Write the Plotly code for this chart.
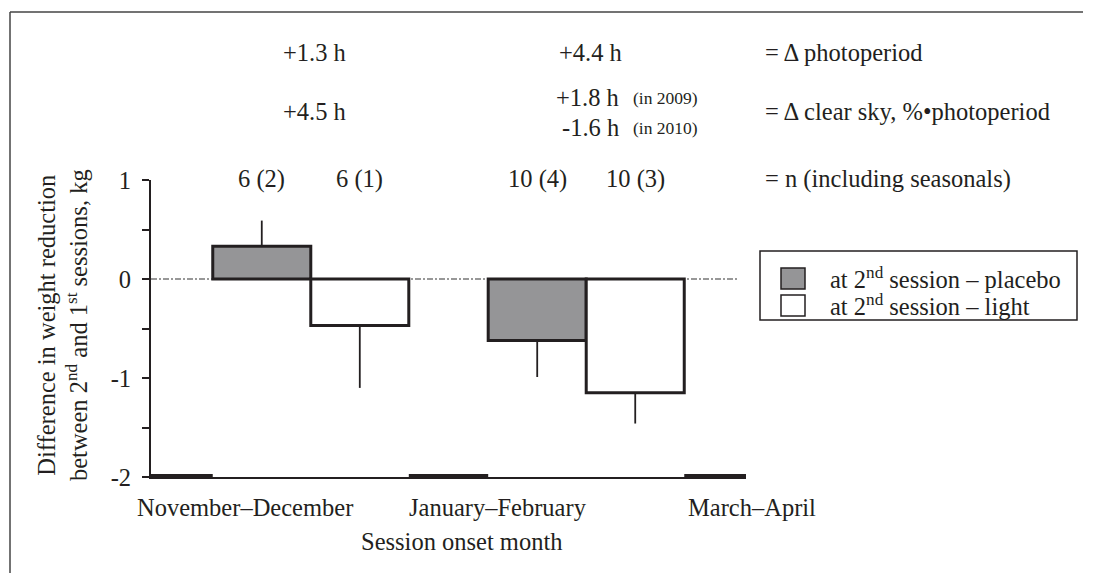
import plotly.graph_objects as go

# ---------------- data ----------------
groups = ["November–December", "January–February"]
axis_labels = ["November–December", "January–February", "March–April"]
placebo = [0.33, -0.62]
light = [-0.47, -1.15]
placebo_err = [0.26, 0.37]
light_err = [0.63, 0.31]
n_placebo = ["6 (2)", "10 (4)"]
n_light = ["6 (1)", "10 (3)"]
delta_photoperiod = ["+1.3 h", "+4.4 h"]
delta_clear_sky = [["+4.5 h"], ["+1.8 h", "-1.6 h"]]
clear_sky_years = [[""], ["(in 2009)", "(in 2010)"]]
row_labels = ["= \u0394 photoperiod", "= \u0394 clear sky, %\u2022photoperiod", "= n (including seasonals)"]
legend_labels = ["at 2<sup>nd</sup> session \u2013 placebo", "at 2<sup>nd</sup> session \u2013 light"]
y_tickvals = [-2, -1.5, -1, -0.5, 0, 0.5, 1]
y_ticktext = ["-2", "", "-1", "", "0", "", "1"]

# ---------------- layout geometry ----------------
W, H = 1093, 573
L, R, T, B = 151, 746, 180, 477
XMAX = 6.07
centers = [1.63, 4.44]
bw = 1.0
FONT = "Liberation Serif"
TXT = "#231f20"
FS = 24.5
FS_SMALL = 17.5


def px(xp):
    return (xp - L) / (R - L)


def py(yp):
    return (B - yp) / (B - T)


x_placebo = [c - bw / 2 for c in centers]
x_light = [c + bw / 2 for c in centers]


def err_up(vals, errs):
    return [e if v > 0 else 0 for v, e in zip(vals, errs)]


def err_down(vals, errs):
    return [e if v < 0 else 0 for v, e in zip(vals, errs)]


fig = go.Figure()
fig.add_trace(go.Bar(
    x=x_placebo, y=placebo, width=bw, name="placebo",
    marker=dict(color="#959597", line=dict(color="#231f20", width=3)),
    error_y=dict(type="data", symmetric=False, array=err_up(placebo, placebo_err),
                 arrayminus=err_down(placebo, placebo_err), color="#231f20",
                 thickness=1.8, width=0),
    showlegend=False,
))
fig.add_trace(go.Bar(
    x=x_light, y=light, width=bw, name="light",
    marker=dict(color="white", line=dict(color="#231f20", width=3)),
    error_y=dict(type="data", symmetric=False, array=err_up(light, light_err),
                 arrayminus=err_down(light, light_err), color="#231f20",
                 thickness=1.8, width=0),
    showlegend=False,
))

shapes = []
# zero reference line (dash-dot)
shapes.append(dict(type="line", xref="x", yref="y", x0=0, x1=XMAX - 0.08, y0=0, y1=0,
                   line=dict(color="#333", width=1.2, dash="6px,2px,2px,2px"), layer="below"))
# thick segments on the x axis between bar groups
seg_edges = [0] + [v for c in centers for v in (c - bw, c + bw)] + [XMAX]
for i in range(0, len(seg_edges), 2):
    shapes.append(dict(type="line", xref="x", yref="y", x0=seg_edges[i], x1=seg_edges[i + 1],
                       y0=-2, y1=-2, line=dict(color="#231f20", width=6)))
# outer frame
shapes.append(dict(type="line", xref="paper", yref="paper", x0=px(10), x1=px(1083), y0=py(12), y1=py(12),
                   line=dict(color="#444", width=1.5)))
shapes.append(dict(type="line", xref="paper", yref="paper", x0=px(10), x1=px(10), y0=py(12), y1=py(573),
                   line=dict(color="#444", width=1.5)))
# legend box and swatches
shapes.append(dict(type="rect", xref="paper", yref="paper", x0=px(760), x1=px(1077), y0=py(320), y1=py(251),
                   line=dict(color="#231f20", width=1.5), fillcolor="white"))
shapes.append(dict(type="rect", xref="paper", yref="paper", x0=px(781), x1=px(805), y0=py(289), y1=py(268),
                   line=dict(color="#231f20", width=1.5), fillcolor="#959597"))
shapes.append(dict(type="rect", xref="paper", yref="paper", x0=px(781), x1=px(805), y0=py(316), y1=py(295),
                   line=dict(color="#231f20", width=1.5), fillcolor="white"))

ann = []


def add_text(text, x, y, xref="paper", xanchor="center", size=FS, yanchor="middle", angle=0):
    ann.append(dict(text=text, x=x, y=y, xref=xref, yref="paper", xanchor=xanchor, yanchor=yanchor,
                    showarrow=False, textangle=angle, font=dict(family=FONT, size=size, color=TXT)))


# top rows: delta photoperiod, delta clear sky, n
for c, t in zip(centers, delta_photoperiod):
    add_text(t, c + 0.04, py(52), xref="x")
add_text(delta_clear_sky[0][0], centers[0] + 0.04, py(112), xref="x")
for t, yr, ypx in zip(delta_clear_sky[1], clear_sky_years[1], [97, 127]):
    add_text(t, px(621), py(ypx), xanchor="right")
    add_text(yr, px(631), py(ypx + 1), xanchor="left", size=FS_SMALL)
for xp, xl, tp, tl in zip(x_placebo, x_light, n_placebo, n_light):
    add_text(tp, xp, py(179), xref="x")
    add_text(tl, xl, py(179), xref="x")
for t, ypx in zip(row_labels, [52, 112, 179]):
    add_text(t, px(763), py(ypx), xanchor="left")
# legend labels
for t, ypx in zip(legend_labels, [278, 305]):
    add_text(t, px(828), py(ypx), xanchor="left")
# x category labels
for t, xp in zip(axis_labels, [245, 498, 752]):
    add_text(t, px(xp), py(507))
# axis titles
add_text("Session onset month", px(461), py(541))
add_text("Difference in weight reduction<br>between 2<sup>nd</sup> and 1<sup>st</sup> sessions, kg",
         px(62), py(325), angle=-90)

fig.update_layout(
    width=W, height=H,
    margin=dict(l=L, r=W - R, t=T, b=H - B, pad=0),
    paper_bgcolor="white", plot_bgcolor="rgba(0,0,0,0)",
    barmode="overlay", showlegend=False,
    shapes=shapes, annotations=ann,
    font=dict(family=FONT, size=FS, color=TXT),
    xaxis=dict(range=[0, XMAX], showline=True, linecolor="#231f20", linewidth=1.5,
               showticklabels=False, ticks="", showgrid=False, zeroline=False, fixedrange=True),
    yaxis=dict(range=[-2, 1], showline=True, linecolor="#231f20", linewidth=2,
               tickvals=y_tickvals, ticktext=y_ticktext, ticks="outside", ticklen=7,
               tickwidth=1.5, tickcolor="#231f20", ticklabelstandoff=6,
               tickfont=dict(family=FONT, size=FS, color=TXT),
               showgrid=False, zeroline=False, fixedrange=True),
)

fig.write_html("out.html", config={"displayModeBar": False},
               post_script="document.body.style.margin='0';document.body.style.overflow='hidden';")
